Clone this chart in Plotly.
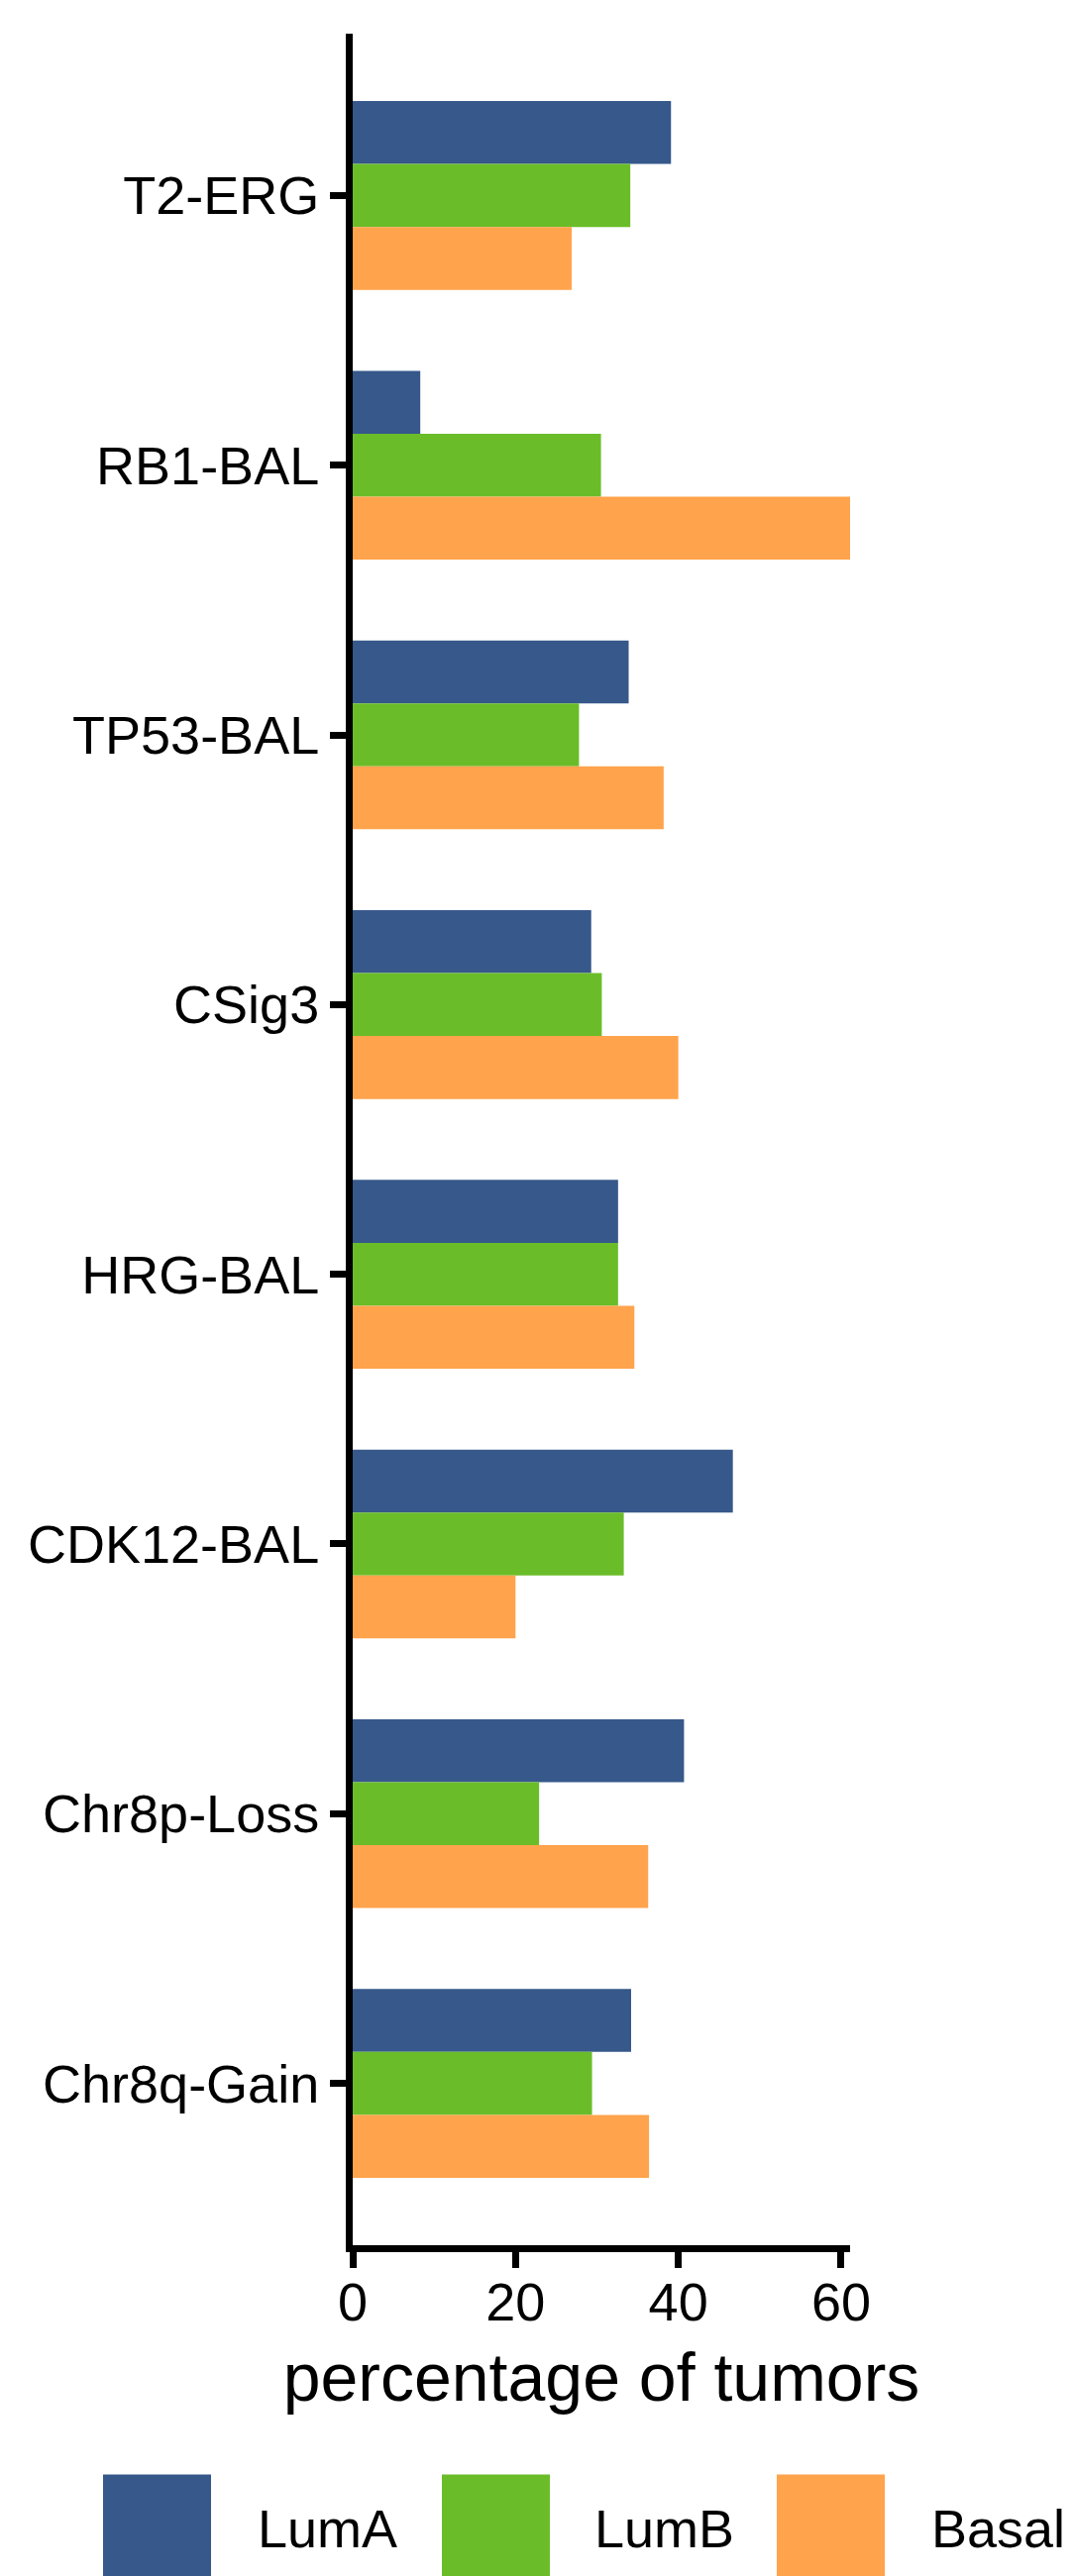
import plotly.graph_objects as go

# ---- data ----
categories = ["T2-ERG", "RB1-BAL", "TP53-BAL", "CSig3", "HRG-BAL",
              "CDK12-BAL", "Chr8p-Loss", "Chr8q-Gain"]
series_names = ["LumA", "LumB", "Basal"]
luma = [39.1, 8.3, 33.9, 29.3, 32.6, 46.7, 40.7, 34.2]
lumb = [34.1, 30.5, 27.8, 30.6, 32.6, 33.3, 22.9, 29.4]
basal = [26.9, 61.1, 38.2, 40.0, 34.6, 20.0, 36.3, 36.4]
x_ticks = [0, 20, 40, 60]
x_title = "percentage of tumors"

colors = ["#36588a", "#6abd28", "#ffa34c"]
values = [luma, lumb, basal]

FONT = "Liberation Sans, Arial, Helvetica, sans-serif"
W, H = 1083, 2601
ML, MR, MT, MB = 356, 225, 34, 334
PW, PH = W - ML - MR, H - MT - MB

fig = go.Figure()
for name, vals, col in zip(series_names, values, colors):
    fig.add_trace(go.Bar(
        y=categories, x=vals, name=name, orientation="h",
        marker=dict(color=col, line=dict(width=0)),
        showlegend=False,
    ))

axis_common = dict(
    showline=True, linewidth=7, linecolor="black",
    ticks="outside", ticklen=16, tickwidth=7, tickcolor="black",
    showgrid=False, zeroline=False,
    tickfont=dict(family=FONT, size=54, color="black"),
)

fig.update_layout(
    width=W, height=H,
    margin=dict(l=ML, r=MR, t=MT, b=MB, pad=0),
    paper_bgcolor="white", plot_bgcolor="white",
    barmode="group", bargap=0.3, bargroupgap=0,
    font=dict(family=FONT, color="black"),
    xaxis=dict(
        range=[0, max(basal)], tickvals=x_ticks, ticktext=[str(t) for t in x_ticks],
        ticklabelstandoff=-12,
        title=dict(text=x_title, font=dict(family=FONT, size=68, color="black"),
                   standoff=26),
        **axis_common,
    ),
    yaxis=dict(
        type="category", categoryorder="array", categoryarray=categories,
        range=[len(categories) - 0.4, -0.6],
        **axis_common,
    ),
)

# ---- custom legend (large keys below the plot) ----
def px_to_paper_x(px):
    return (px - ML) / PW

def px_to_paper_y(py):
    return (H - MB - py) / PH

box = 109
box_x = [104, 446, 784]
text_x = [258, 598, 938]
leg_cy = 2553
for name, col, bx, tx in zip(series_names, colors, box_x, text_x):
    fig.add_shape(
        type="rect", xref="paper", yref="paper",
        x0=px_to_paper_x(bx), x1=px_to_paper_x(bx + box),
        y0=px_to_paper_y(leg_cy + box / 2), y1=px_to_paper_y(leg_cy - box / 2),
        fillcolor=col, line=dict(width=0), layer="above",
    )
    fig.add_annotation(
        xref="paper", yref="paper",
        x=px_to_paper_x(tx), y=px_to_paper_y(leg_cy),
        text=name, showarrow=False, xanchor="left", yanchor="middle",
        font=dict(family=FONT, size=54, color="black"),
    )

fig.write_html("out.html")
